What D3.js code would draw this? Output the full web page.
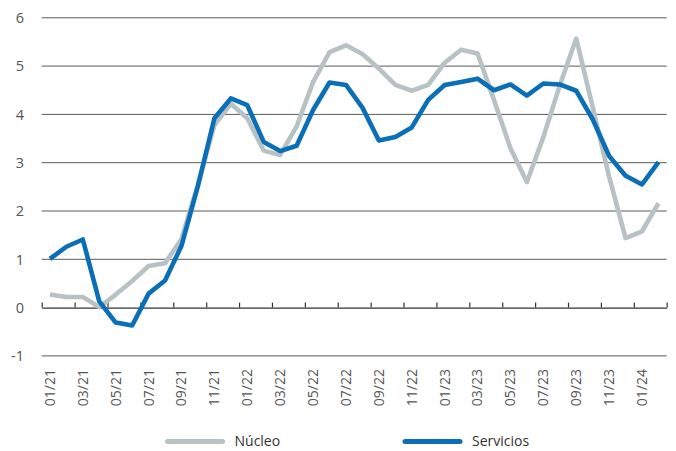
<!DOCTYPE html>
<html>
<head>
<meta charset="utf-8">
<script src="https://cdn.jsdelivr.net/npm/d3@7"></script>
<style>
  html, body { margin: 0; padding: 0; background: #fff; }
  svg { display: block; font-family: "Open Sans", "Noto Sans", sans-serif; }
</style>
</head>
<body>
<svg id="chart" width="676" height="451"></svg>
<script>
// Monthly categories, 01/21 .. 02/24
const months = [
  "01/21","02/21","03/21","04/21","05/21","06/21","07/21","08/21","09/21","10/21","11/21","12/21",
  "01/22","02/22","03/22","04/22","05/22","06/22","07/22","08/22","09/22","10/22","11/22","12/22",
  "01/23","02/23","03/23","04/23","05/23","06/23","07/23","08/23","09/23","10/23","11/23","12/23",
  "01/24","02/24"
];

// Year-on-year rates (%)
const nucleo = [
  0.27, 0.22, 0.22, 0.01, 0.27, 0.55, 0.86, 0.92, 1.42, 2.55, 3.78, 4.22,
  3.92, 3.25, 3.16, 3.75, 4.67, 5.29, 5.43, 5.25, 4.95, 4.61, 4.49, 4.61,
  5.07, 5.34, 5.26, 4.30, 3.30, 2.60, 3.53, 4.60, 5.57, 4.15, 2.71, 1.44,
  1.58, 2.16
];
const servicios = [
  1.01, 1.26, 1.41, 0.13, -0.31, -0.37, 0.29, 0.56, 1.28, 2.52, 3.92, 4.33,
  4.19, 3.43, 3.24, 3.35, 4.09, 4.66, 4.61, 4.14, 3.46, 3.53, 3.73, 4.30,
  4.61, 4.67, 4.74, 4.50, 4.62, 4.39, 4.64, 4.62, 4.49, 3.90, 3.14, 2.73,
  2.55, 3.01
];

const yTicks = [-1, 0, 1, 2, 3, 4, 5, 6];
const seriesNames = ["Núcleo", "Servicios"];
const seriesColors = ["#b8c1c4", "#0a6fb6"];

const svg = d3.select("#chart");
const left = 41.7, right = 666.7;

const x = d3.scaleBand().domain(months).range([left, right]).paddingInner(0).paddingOuter(0);
const xIdx = d3.scaleLinear().domain([0, months.length]).range([left, right]);
const y = d3.scaleLinear().domain([-1, 6]).range([355.9, 17.8]);
const cx = m => x(m) + x.bandwidth() / 2;

// horizontal grid lines
svg.append("g")
  .selectAll("line")
  .data(yTicks.filter(v => v !== 0))
  .join("line")
  .attr("x1", left).attr("x2", right)
  .attr("y1", d => y(d)).attr("y2", d => y(d))
  .attr("stroke", "#5a5a5a")
  .attr("stroke-width", 1);

// y labels
svg.append("g")
  .selectAll("text")
  .data(yTicks)
  .join("text")
  .attr("x", 24)
  .attr("y", d => y(d))
  .attr("dy", "0.36em")
  .attr("text-anchor", "end")
  .attr("font-size", 14.5)
  .attr("fill", "#555")
  .text(d => d);

// zero axis with ticks every two months
const tickIdx = d3.range(0, months.length + 1, 2);
const axis = d3.axisTop(xIdx).tickValues(tickIdx).tickSize(5).tickSizeOuter(0).tickFormat("");
const gx = svg.append("g").attr("transform", `translate(0,${y(0)})`).call(axis);
gx.select(".domain").attr("stroke", "#333").attr("stroke-width", 1.2);
gx.selectAll(".tick line").attr("stroke", "#333").attr("stroke-width", 1.2);

// rotated month labels
svg.append("g")
  .selectAll("text")
  .data(months.filter((m, i) => i % 2 === 0))
  .join("text")
  .attr("transform", d => `translate(${cx(d)},369) rotate(-90)`)
  .attr("dy", "0.35em")
  .attr("text-anchor", "end")
  .attr("font-size", 14)
  .attr("fill", "#555")
  .text(d => d);

// series lines
const line = d3.line().x((d, i) => cx(months[i])).y(d => y(d));
[nucleo, servicios].forEach((vals, k) => {
  svg.append("path")
    .datum(vals)
    .attr("d", line)
    .attr("fill", "none")
    .attr("stroke", seriesColors[k])
    .attr("stroke-width", 4.6)
    .attr("stroke-linejoin", "round");
});

// legend
const legendX = [167.5, 405];
const lg = svg.append("g").selectAll("g").data(seriesNames).join("g")
  .attr("transform", (d, i) => `translate(${legendX[i]},441.5)`);
lg.append("line")
  .attr("x1", 0).attr("x2", 55)
  .attr("stroke", (d, i) => seriesColors[i])
  .attr("stroke-width", 5)
  .attr("stroke-linecap", "round");
lg.append("text")
  .attr("x", 67)
  .attr("dy", "0.35em")
  .attr("font-size", 14)
  .attr("fill", "#333")
  .text(d => d);
</script>
</body>
</html>
